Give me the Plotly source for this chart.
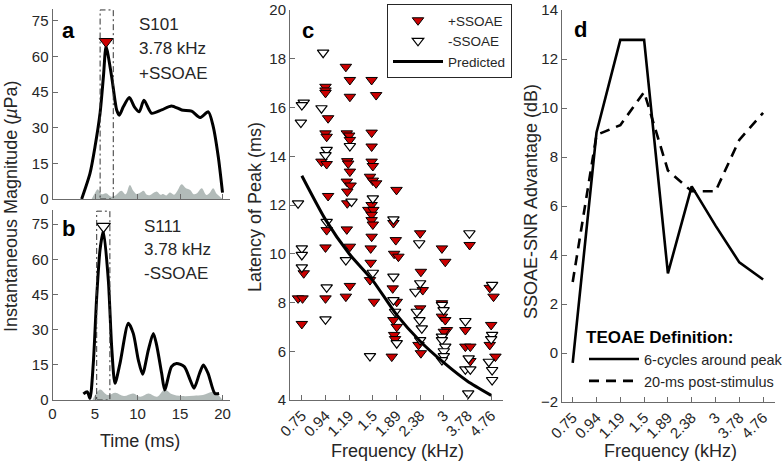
import plotly.graph_objects as go

W, H = 784, 465

# ---------------- data ----------------
# panel a (S101, +SSOAE) waveform envelope
time_a = [3.43, 4.41, 5.0, 5.59, 6.0, 6.3, 6.96, 7.55, 7.86, 8.33, 9.04, 9.63, 10.2, 10.76,
          11.66, 12.84, 14.0, 15.2, 16.36, 17.35, 18.33, 18.9, 19.5, 20.0]
mag_a = [0.0, 10.8, 22.0, 36.0, 52.0, 64.2, 51.5, 37.5, 35.3, 38.8, 42.7, 38.8, 36.7, 41.6,
         36.1, 37.5, 39.2, 37.5, 37.0, 34.3, 36.7, 30.6, 17.8, 2.7]
noise_t_a = [4.6, 5.0, 5.3, 5.8, 6.3, 6.9, 7.4, 8.1, 8.6, 9.1, 9.5, 9.9, 10.3, 10.7, 11.1, 11.5,
             11.9, 12.3, 12.7, 13.0, 13.4, 13.8, 14.3, 14.7, 15.2, 15.7, 16.2, 16.6, 17.0, 17.55,
             18.1, 18.5, 18.9, 19.3, 19.7, 20.0]
noise_a = [0.0, 2.5, 4.1, 2.0, 2.4, 1.0, 1.5, 3.5, 2.0, 5.9, 3.5, 2.1, 2.6, 3.5, 1.8, 1.7,
           2.6, 3.1, 1.8, 2.1, 1.5, 2.7, 1.8, 3.5, 6.2, 4.5, 3.8, 2.0, 2.4, 4.5,
           1.7, 2.6, 4.5, 2.2, 1.0, 0.0]
peak_a = [6.3, 66.3]
window_a = [5.6, 7.15]

# panel b (S111, -SSOAE)
time_b = [3.63, 4.1, 4.41, 4.8, 5.2, 5.59, 5.98, 6.57, 6.96, 7.35, 7.94, 8.92, 9.5, 10.1, 10.6,
          11.27, 11.86, 12.25, 12.84, 13.2, 14.0, 14.6, 15.5, 16.2, 16.65, 17.3, 17.75, 18.3,
          19.1, 19.6]
mag_b = [2.6, 3.5, 0.7, 15.6, 44.0, 64.0, 72.0, 51.0, 22.7, 7.1, 15.6, 32.7, 28.4, 17.0, 11.0,
         21.3, 28.4, 23.4, 11.4, 4.3, 14.2, 15.6, 14.2, 8.5, 5.0, 11.4, 14.9, 11.4,
         2.8, 2.8]
noise_t_b = [4.7, 5.0, 5.6, 6.5, 7.4, 8.4, 9.5, 10.3, 11.3, 12.3, 13.2, 14.0, 15.2, 16.6,
             17.7, 18.9, 19.7, 20.0]
noise_b = [0.0, 2.0, 4.5, 2.1, 3.1, 1.7, 2.8, 1.4, 2.8, 1.4, 4.5, 2.6, 1.7, 1.8,
           2.1, 3.5, 1.4, 0.0]
peak_b = [6.0, 74.0]
window_b = [5.2, 6.75]

# panel c: latency of peak vs frequency band (band index 1..9, with jitter)
freq_labels = ["0.75", "0.94", "1.19", "1.5", "1.89", "2.38", "3", "3.78", "4.76"]
band = [1, 2, 3, 4, 5, 6, 7, 8, 9]

pos_x = [1.08, 0.84, 1.03, 1.0,
         2.0, 2.0, 2.0, 2.11, 2.0, 2.05, 1.83, 2.05, 2.11, 2.05, 2.0, 2.0,
         2.86, 3.03, 3.03, 2.9, 3.0, 3.03, 2.92, 2.96, 3.03, 2.9, 3.06, 2.92, 2.92, 2.9, 3.03, 3.03, 2.86,
         3.95, 4.14, 3.95, 3.95, 3.95, 4.0, 3.88, 4.0, 4.14, 3.95, 3.81, 4.02, 3.95, 3.95, 4.0, 3.95,
         3.91, 3.91, 3.88, 4.05,
         5.0, 4.87, 4.97, 4.9, 5.08, 4.84, 5.01, 4.87, 5.01, 4.9, 4.94, 4.8,
         6.0, 6.03, 6.11, 6.0, 5.93, 6.03,
         6.92, 7.06, 6.92, 6.92, 7.06, 7.13, 7.0,
         8.09, 7.91, 7.91, 8.12, 8.12,
         8.94, 9.1, 9.0, 8.94, 9.18]
pos_y = [9.2, 8.17, 8.17, 7.12,
         16.85, 16.7, 16.6, 15.56, 14.94, 14.8, 13.78, 13.68, 12.37, 10.97, 10.26, 8.17,
         17.67, 17.13, 16.44, 14.94, 14.85, 14.67, 13.8, 13.7, 13.37, 12.96, 12.8, 12.55, 12.07, 11.0, 10.29, 8.68, 8.24,
         17.13, 16.51, 14.97, 14.4, 13.78, 13.6, 13.16, 13.0, 12.89, 12.0, 11.8, 11.8, 11.6, 11.38, 11.2, 10.7,
         10.22, 9.63, 8.92, 8.03,
         12.62, 11.26, 10.56, 10.0, 9.88, 8.58, 8.03, 7.28, 7.0, 6.67, 6.5, 5.78,
         10.84, 9.26, 8.51, 7.76, 6.26, 5.92,
         10.22, 9.67, 7.97, 7.42, 7.28, 6.87, 6.8,
         10.36, 6.87, 6.19, 6.19, 5.6,
         8.6, 8.24, 7.08, 6.26, 5.78]

neg_x = [1.08, 1.0, 0.96, 0.84, 1.0, 1.0, 1.0,
         1.9, 1.83, 2.05, 2.0, 2.05, 2.05, 2.0,
         3.03, 3.1, 2.86,
         4.0, 4.0, 3.88,
         4.87, 4.87, 4.87, 4.94, 5.01,
         5.96, 6.0, 5.8, 5.86, 5.97, 6.07, 6.0,
         6.92, 6.99, 6.92, 6.92, 7.06, 7.0, 7.0, 6.92,
         8.08, 7.91, 8.05, 7.91, 8.12, 8.03,
         9.04, 9.04, 9.0, 8.9, 9.04, 9.04]
neg_y = [16.2, 16.1, 15.38, 12.07, 10.22, 9.95, 9.44,
         18.25, 15.97, 14.26, 14.05, 11.31, 8.62, 7.31,
         14.42, 12.14, 9.74,
         12.27, 9.22, 5.8,
         11.41, 9.06, 8.1, 7.62, 6.33,
         10.43, 8.79, 8.44, 7.62, 7.28, 6.94, 6.46,
         7.9, 7.69, 6.6, 6.46, 6.19, 6.0, 5.8, 5.64,
         10.84, 7.24, 5.71, 5.26, 5.26, 4.27,
         8.72, 6.67, 6.5, 5.57, 5.23, 4.82]

predicted = [13.2, 11.4, 10.0, 8.9, 7.5, 6.41, 5.53, 4.77, 4.19]

# panel d: SSOAE-SNR advantage
six_cycles = [-0.4, 9.0, 12.78, 12.78, 3.25, 6.8, 5.2, 3.7, 3.0]
post_stim = [2.9, 8.9, 9.3, 10.65, 7.45, 6.6, 6.6, 8.7, 9.8]

# ---------------- styling helpers ----------------
FONT = "Liberation Sans, Arial, sans-serif"
TXT = "#262626"
AX = "#6b6b6b"
RED = "#cc0000"
GRAY_FILL = "rgba(170,180,177,0.9)"


def px(x):
    return x / W


def py(y):
    return 1 - y / H


fig = go.Figure()

# panel a
fig.add_trace(go.Scatter(x=noise_t_a, y=noise_a, mode="lines", fill="tozeroy",
                         fillcolor=GRAY_FILL, line=dict(width=0, color=GRAY_FILL, shape="spline"),
                         xaxis="x", yaxis="y", showlegend=False, hoverinfo="skip"))
fig.add_trace(go.Scatter(x=time_a, y=mag_a, mode="lines",
                         line=dict(color="black", width=3, shape="spline", smoothing=0.7),
                         xaxis="x", yaxis="y", showlegend=False))
fig.add_trace(go.Scatter(x=[peak_a[0]], y=[peak_a[1]], mode="markers",
                         marker=dict(symbol="triangle-down", size=12, color=RED,
                                     line=dict(color="black", width=1)),
                         xaxis="x", yaxis="y", showlegend=False))

# panel b
fig.add_trace(go.Scatter(x=noise_t_b, y=noise_b, mode="lines", fill="tozeroy",
                         fillcolor=GRAY_FILL, line=dict(width=0, color=GRAY_FILL, shape="spline"),
                         xaxis="x2", yaxis="y2", showlegend=False, hoverinfo="skip"))
fig.add_trace(go.Scatter(x=time_b, y=mag_b, mode="lines",
                         line=dict(color="black", width=3, shape="spline", smoothing=0.7),
                         xaxis="x2", yaxis="y2", showlegend=False))
fig.add_trace(go.Scatter(x=[peak_b[0]], y=[peak_b[1]], mode="markers",
                         marker=dict(symbol="triangle-down", size=12, color="white",
                                     line=dict(color="black", width=1.2)),
                         xaxis="x2", yaxis="y2", showlegend=False))

# panel c
fig.add_trace(go.Scatter(x=pos_x, y=pos_y, mode="markers", name="+SSOAE",
                         marker=dict(symbol="triangle-down", size=10, color=RED,
                                     line=dict(color="black", width=1)),
                         xaxis="x3", yaxis="y3", legend="legend"))
fig.add_trace(go.Scatter(x=neg_x, y=neg_y, mode="markers", name="-SSOAE",
                         marker=dict(symbol="triangle-down", size=10, color="white",
                                     line=dict(color="black", width=1.2)),
                         xaxis="x3", yaxis="y3", legend="legend"))
fig.add_trace(go.Scatter(x=band, y=predicted, mode="lines", name="Predicted",
                         line=dict(color="black", width=3, shape="spline", smoothing=0.6),
                         xaxis="x3", yaxis="y3", legend="legend"))

# panel d
fig.add_trace(go.Scatter(x=band, y=six_cycles, mode="lines", name="6-cycles around peak",
                         line=dict(color="black", width=2.6),
                         xaxis="x4", yaxis="y4", legend="legend2"))
fig.add_trace(go.Scatter(x=band, y=post_stim, mode="lines", name="20-ms post-stimulus",
                         line=dict(color="black", width=2.6, dash="10px,7px"),
                         xaxis="x4", yaxis="y4", legend="legend2"))

# ---------------- axes ----------------
common = dict(showline=True, linecolor=AX, linewidth=1, ticks="inside", ticklen=5,
              tickcolor=AX, showgrid=False, zeroline=False, automargin=False,
              ticklabeloverflow="allow",
              tickfont=dict(family=FONT, size=15, color=TXT))

fig.update_layout(
    xaxis=dict(domain=[px(52.5), px(230)], range=[0, 20.88], dtick=5, showticklabels=False,
               anchor="y", **common),
    yaxis=dict(domain=[py(199), py(9)], range=[0, 80], tickvals=[0, 15, 30, 45, 60, 75],
               anchor="x", **common),
    xaxis2=dict(domain=[px(52.5), px(230)], range=[0, 20.88], dtick=5, anchor="y2", **common),
    yaxis2=dict(domain=[py(400), py(210)], range=[0, 81], tickvals=[0, 15, 30, 45, 60, 75],
                anchor="x2", **common),
    xaxis3=dict(domain=[px(290), px(503)], range=[0.5, 9.5], tickvals=band,
                ticktext=freq_labels, tickangle=-45, anchor="y3", **common),
    yaxis3=dict(domain=[py(400), py(10)], range=[4, 20], dtick=2, anchor="x3", **common),
    xaxis4=dict(domain=[px(562), px(775)], range=[0.55, 9.5], tickvals=band,
                ticktext=freq_labels, tickangle=-45, anchor="y4", **common),
    yaxis4=dict(domain=[py(402), py(10)], range=[-2, 14], dtick=2, anchor="x4", **common),
)

# ---------------- window boxes ----------------
shapes = [
    dict(type="rect", xref="x", yref="y", x0=window_a[0], x1=window_a[1], y0=0, y1=79.6,
         line=dict(color="#333333", width=1, dash="6px,3px,2px,3px")),
    dict(type="rect", xref="x2", yref="y2", x0=window_b[0], x1=window_b[1], y0=0, y1=80.5,
         line=dict(color="#333333", width=1, dash="6px,3px,2px,3px")),
]

# ---------------- annotations ----------------
ann = []


def text(x, y, s, size=17, bold=False, xanchor="left", angle=0):
    ann.append(dict(x=px(x), y=py(y), xref="paper", yref="paper", text=("<b>%s</b>" % s) if bold else s,
                    showarrow=False, xanchor=xanchor, yanchor="middle", textangle=angle,
                    font=dict(family=FONT, size=size, color=TXT if not bold else "black")))


text(68, 31, "a", size=22, bold=True, xanchor="center")
text(68, 229, "b", size=22, bold=True, xanchor="center")
text(308, 31, "c", size=22, bold=True, xanchor="center")
text(580, 30, "d", size=22, bold=True, xanchor="center")

text(137, 25, "S101")
text(137, 49, "3.78 kHz")
text(137, 73, "+SSOAE")
text(142, 226, "S111")
text(142, 249, "3.78 kHz")
text(142, 273, "-SSOAE")

text(11, 206, "Instantaneous Magnitude (<i>µ</i>Pa)", size=18, xanchor="center", angle=-90)
text(140, 441, "Time (ms)", size=18, xanchor="center")
text(255, 207, "Latency of Peak (ms)", size=18, xanchor="center", angle=-90)
text(397, 451, "Frequency (kHz)", size=18, xanchor="center")
text(531, 202, "SSOAE-SNR Advantage (dB)", size=18, xanchor="center", angle=-90)
text(670, 451, "Frequency (kHz)", size=18, xanchor="center")

fig.update_layout(
    width=W, height=H, margin=dict(l=0, r=0, t=0, b=0, autoexpand=False),
    paper_bgcolor="white", plot_bgcolor="white",
    font=dict(family=FONT, color=TXT),
    shapes=shapes, annotations=ann,
    legend=dict(x=px(387), y=py(4), xanchor="left", yanchor="top",
                bgcolor="white", bordercolor="#262626", borderwidth=1,
                font=dict(family=FONT, size=13.5, color=TXT), itemwidth=50,
                tracegroupgap=0),
    legend2=dict(x=px(584), y=py(321), xanchor="left", yanchor="top",
                 bgcolor="rgba(0,0,0,0)", borderwidth=0,
                 title=dict(text="<b>TEOAE Definition:</b>",
                            font=dict(family=FONT, size=17, color="black")),
                 font=dict(family=FONT, size=14.5, color=TXT), itemwidth=50),
)

# remove the browser's default 8px page margin so the figure sits at the window corner
fig.write_html("out.html", config={"displayModeBar": False},
               post_script="document.body.style.margin='0px';")
